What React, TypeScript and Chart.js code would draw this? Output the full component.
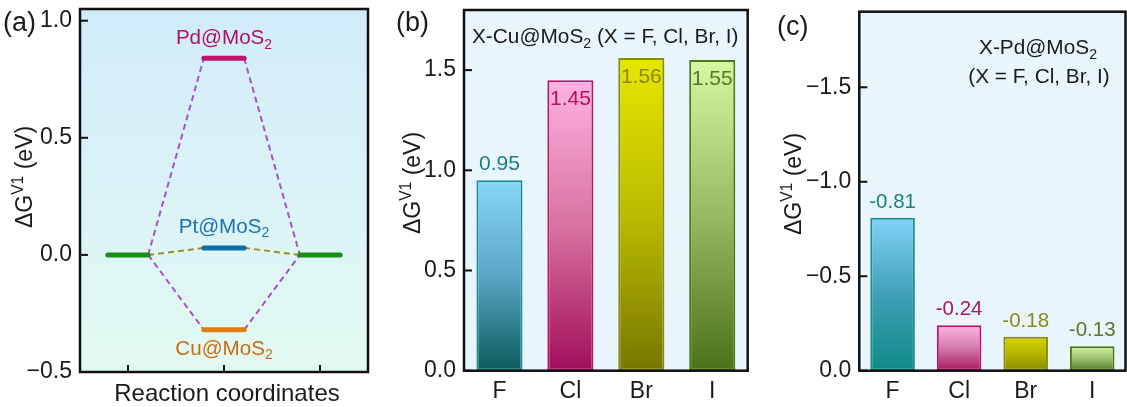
import React, { useEffect, useRef } from 'react';
import { Chart, registerables } from 'chart.js';
Chart.register(...registerables);

const FONT = '"Liberation Sans", Arial, Helvetica, sans-serif';

// ---------- Panel (a) data ----------
const stepPositions = [1, 2, 3];
const levelNames = ['Pd@MoS', 'Pt@MoS', 'Cu@MoS'];
const levelValues = [0.84, 0.03, -0.32];
const initialValue = 0;
const finalValue = 0;
const yTicksA = [-0.5, 0, 0.5, 1.0];

// ---------- Panel (b) / (c) data ----------
const halogens = ['F', 'Cl', 'Br', 'I'];
const cuValues = [0.95, 1.45, 1.56, 1.55];
const yTicksB = [0, 0.5, 1.0, 1.5];
const pdValues = [-0.81, -0.24, -0.18, -0.13];
const yTicksC = [-1.5, -1.0, -0.5, 0];

// ---------- styles ----------
const levelColors = ['#C2106B', '#0E6DAE', '#E27B10'];
const levelLabelColors = ['#B0125F', '#1C72B0', '#CF6A12'];
const connectorColors = ['#A552C8', '#A08C22', '#A552C8'];
const levelLabelOffsets = [-14, -15, 25];
const baseLevelColor = '#1A8C1A';
const halfWidth = 0.21;
const TICK_SIZE = 23;

const gradB = [
  ['#87D5FA', '#5AA6C6', '#0D5A5C'],
  ['#FFB2E2', '#D8729F', '#A00E5A'],
  ['#E6E600', '#BBBB00', '#777700'],
  ['#D6F8A2', '#98B862', '#4A7218'],
];
const gradC = [
  ['#82D2F8', '#3FA0B8', '#0E8A86'],
  ['#FFB5E2', '#D37AAE', '#A8185E'],
  ['#D4D400', '#B5B500', '#8A8A00'],
  ['#D4F6A2', '#9CC070', '#4E7A20'],
];
const borderColors = ['#1C9090', '#C0106C', '#8A8A12', '#4E7A14'];
const labelColors = ['#1E7E80', '#B0145E', '#8A8A16', '#55782A'];
const labelInsideB = [false, true, true, true];

type Seg = { t: string; s?: 'sub' | 'sup' };

function drawRich(ctx: CanvasRenderingContext2D, segs: Seg[], x: number, y: number, align: string, size: number, color: string) {
  const items = segs.map((s) => {
    const fs = s.s ? size * 0.68 : size;
    ctx.font = `${fs}px ${FONT}`;
    return { ...s, fs, w: ctx.measureText(s.t).width };
  });
  const total = items.reduce((a, b) => a + b.w, 0);
  let cx = align === 'center' ? x - total / 2 : align === 'right' ? x - total : x;
  ctx.fillStyle = color;
  ctx.textBaseline = 'alphabetic';
  ctx.textAlign = 'left';
  for (const it of items) {
    ctx.font = `${it.fs}px ${FONT}`;
    const dy = it.s === 'sub' ? size * 0.22 : it.s === 'sup' ? -size * 0.42 : 0;
    ctx.fillText(it.t, cx, y + dy);
    cx += it.w;
  }
}

const yTitle: Seg[] = [{ t: '\u0394G' }, { t: 'V1', s: 'sup' }, { t: ' (eV)' }];

function fmtMinus(v: number) {
  return v < 0 ? '\u2212' + Math.abs(v).toFixed(1) : Math.abs(v).toFixed(1);
}

function fitY(w: number) {
  return (s: any) => {
    s.width = w;
    s.paddingTop = 0;
    s.paddingBottom = 0;
    s.paddingLeft = 0;
    s.paddingRight = 0;
  };
}
function fitX(h: number) {
  return (s: any) => {
    s.height = h;
    s.paddingTop = 0;
    s.paddingBottom = 0;
    s.paddingLeft = 0;
    s.paddingRight = 0;
  };
}

function panelPlugin(o: any) {
  return {
    id: 'panel' + o.label,
    beforeDraw(chart: any) {
      const { ctx, chartArea: a } = chart;
      ctx.save();
      if (o.bgGrad) {
        const g = ctx.createLinearGradient(0, a.top, 0, a.bottom);
        g.addColorStop(0, o.bgGrad[0]);
        g.addColorStop(1, o.bgGrad[1]);
        ctx.fillStyle = g;
      } else ctx.fillStyle = o.bg;
      ctx.fillRect(a.left, a.top, a.right - a.left, a.bottom - a.top);
      ctx.restore();
    },
    afterDraw(chart: any) {
      const { ctx, chartArea: a } = chart;
      ctx.save();
      ctx.strokeStyle = '#111';
      ctx.lineWidth = 2;
      const ys = chart.scales.y;
      ys.ticks.forEach((t: any) => {
        const p = ys.getPixelForValue(t.value);
        ctx.beginPath();
        ctx.moveTo(a.left, p);
        ctx.lineTo(a.left + 8, p);
        ctx.stroke();
      });
      if (o.xTicks) {
        const xs = chart.scales.x;
        o.xTicks.forEach((v: number) => {
          const p = xs.getPixelForValue(v);
          ctx.beginPath();
          ctx.moveTo(p, a.bottom);
          ctx.lineTo(p, a.bottom - 7);
          ctx.stroke();
        });
      }
      ctx.lineWidth = 2.5;
      ctx.strokeRect(a.left, a.top, a.right - a.left, a.bottom - a.top);
      // panel label
      ctx.font = `27px ${FONT}`;
      ctx.fillStyle = '#1a1a1a';
      ctx.textAlign = 'left';
      ctx.textBaseline = 'alphabetic';
      ctx.fillText(o.label, o.labelX, o.labelY);
      // y title
      ctx.translate(o.titleX, o.titleY);
      ctx.rotate(-Math.PI / 2);
      drawRich(ctx, yTitle, 0, 23 * 0.36, 'center', 23, '#1a1a1a');
      ctx.restore();
      if (o.extra) o.extra(chart);
    },
  };
}

function ChartA() {
  const ref = useRef<HTMLCanvasElement>(null);
  useEffect(() => {
    const [x1, x2, x3] = stepPositions;
    const levelDs = (x: number, v: number, color: string) => ({
      data: [{ x: x - halfWidth, y: v }, { x: x + halfWidth, y: v }],
      borderColor: color,
      borderWidth: 5,
      borderCapStyle: 'round',
      showLine: true,
      pointRadius: 0,
      order: 0,
    });
    const connDs = (xa: number, va: number, xb: number, vb: number, color: string) => ({
      data: [{ x: xa, y: va }, { x: xb, y: vb }],
      borderColor: color,
      borderWidth: 2,
      borderDash: [6, 4],
      showLine: true,
      pointRadius: 0,
      order: 1,
    });
    const datasets: any[] = [levelDs(x1, initialValue, baseLevelColor), levelDs(x3, finalValue, baseLevelColor)];
    levelValues.forEach((v, i) => {
      datasets.push(levelDs(x2, v, levelColors[i]));
      datasets.push(connDs(x1 + halfWidth, initialValue, x2 - halfWidth, v, connectorColors[i]));
      datasets.push(connDs(x2 + halfWidth, v, x3 - halfWidth, finalValue, connectorColors[i]));
    });
    const chart = new Chart(ref.current!, {
      type: 'scatter',
      data: { datasets },
      options: {
        animation: false,
        responsive: false,
        devicePixelRatio: 1,
        layout: { padding: { left: 0, right: 7, top: 9, bottom: 0 } },
        plugins: { legend: { display: false }, tooltip: { enabled: false } },
        scales: {
          x: {
            type: 'linear',
            min: 0.5,
            max: 3.5,
            grid: { display: false, drawTicks: false },
            border: { display: false },
            ticks: { display: false },
            afterFit: fitX(35),
          },
          y: {
            min: -0.5,
            max: 1.05,
            grid: { display: false, drawTicks: false },
            border: { display: false },
            afterBuildTicks: (s: any) => { s.ticks = yTicksA.map((v) => ({ value: v })); },
            ticks: { padding: 8, color: '#1a1a1a', font: { family: FONT, size: TICK_SIZE }, callback: (v: any) => fmtMinus(Number(v)) },
            afterFit: fitY(80),
          },
        },
      } as any,
      plugins: [
        panelPlugin({
          label: '(a)', labelX: 3, labelY: 31, titleX: 24, titleY: 177,
          bgGrad: ['#D2EBFB', '#E2FAF1'], xTicks: stepPositions,
          extra: (chart: any) => {
            const ctx = chart.ctx;
            const xs = chart.scales.x, ys = chart.scales.y;
            ctx.save();
            levelValues.forEach((v, i) => {
              drawRich(ctx, [{ t: levelNames[i] }, { t: '2', s: 'sub' }], xs.getPixelForValue(x2), ys.getPixelForValue(v) + levelLabelOffsets[i], 'center', 20.6, levelLabelColors[i]);
            });
            const a = chart.chartArea;
            ctx.font = `24px ${FONT}`;
            ctx.fillStyle = '#1a1a1a';
            ctx.textAlign = 'center';
            ctx.textBaseline = 'alphabetic';
            ctx.fillText('Reaction coordinates', (a.left + a.right) / 2 + 3, 401);
            ctx.restore();
          },
        }),
      ],
    });
    return () => chart.destroy();
  }, []);
  return <canvas ref={ref} width={375} height={407} style={{ position: 'absolute', left: 0, top: 0, display: 'block' }} />;
}

function makeBarChart(canvas: HTMLCanvasElement, cfg: any) {
  const values: number[] = cfg.values;
  const grads: string[][] = cfg.grads;
  return new Chart(canvas, {
    type: 'bar',
    data: {
      labels: halogens,
      datasets: [{
        data: values,
        backgroundColor: (c: any) => {
          const stops = grads[c.dataIndex] || grads[0];
          const chart = c.chart;
          if (!chart.chartArea || c.raw === undefined) return stops[0];
          const ys = chart.scales.y;
          const top = ys.getPixelForValue(c.raw);
          const base = ys.getPixelForValue(0);
          const g = chart.ctx.createLinearGradient(0, top, 0, base);
          stops.forEach((col, k) => g.addColorStop(k / (stops.length - 1), col));
          return g;
        },
        borderColor: borderColors,
        borderWidth: 2,
        borderSkipped: false,
        barPercentage: cfg.barPct,
        categoryPercentage: 1,
      }],
    },
    options: {
      animation: false,
      responsive: false,
      devicePixelRatio: 1,
      layout: { padding: { left: 0, right: cfg.padRight, top: cfg.padTop, bottom: 0 } },
      plugins: { legend: { display: false }, tooltip: { enabled: false } },
      scales: {
        x: {
          grid: { display: false, drawTicks: false },
          border: { display: false },
          ticks: { padding: 7, color: '#1a1a1a', font: { family: FONT, size: TICK_SIZE } },
          afterFit: fitX(cfg.xHeight),
        },
        y: {
          min: cfg.min,
          max: cfg.max,
          reverse: cfg.reverse,
          grid: { display: false, drawTicks: false },
          border: { display: false },
          afterBuildTicks: (s: any) => { s.ticks = cfg.ticks.map((v: number) => ({ value: v })); },
          ticks: { padding: 8, color: '#1a1a1a', font: { family: FONT, size: TICK_SIZE }, callback: (v: any) => fmtMinus(Number(v)) },
          afterFit: fitY(cfg.yWidth),
        },
      },
    } as any,
    plugins: [
      panelPlugin({
        label: cfg.label, labelX: cfg.labelX, labelY: cfg.labelY, titleX: cfg.titleX, titleY: cfg.titleY,
        bg: '#E9F5FD',
        extra: (chart: any) => {
          const ctx = chart.ctx;
          ctx.save();
          const meta = chart.getDatasetMeta(0);
          meta.data.forEach((el: any, i: number) => {
            const inside = cfg.inside[i];
            ctx.font = `${cfg.valueSize}px ${FONT}`;
            ctx.fillStyle = labelColors[i];
            ctx.textAlign = 'center';
            ctx.textBaseline = 'alphabetic';
            ctx.fillText(values[i].toFixed(2), el.x, inside ? el.y + 24.5 : el.y - 10);
          });
          cfg.notes.forEach((n: any) => drawRich(ctx, n.segs, n.x, n.y, n.align, 20.8, '#1a1a1a'));
          ctx.restore();
        },
      }),
    ],
  });
}

function ChartB() {
  const ref = useRef<HTMLCanvasElement>(null);
  useEffect(() => {
    const chart = makeBarChart(ref.current!, {
      values: cuValues, grads: gradB, barPct: 0.65, padRight: 2.3, padTop: 10, xHeight: 36.3,
      min: 0, max: 1.8, reverse: false, ticks: yTicksB, yWidth: 89,
      label: '(b)', labelX: 21, labelY: 31, titleX: 37, titleY: 183, inside: labelInsideB, valueSize: 21,
      notes: [{ segs: [{ t: 'X-Cu@MoS' }, { t: '2', s: 'sub' }, { t: ' (X = F, Cl, Br, I)' }], x: 97, y: 43, align: 'left' }],
    });
    return () => chart.destroy();
  }, []);
  return <canvas ref={ref} width={375} height={407} style={{ position: 'absolute', left: 375, top: 0, display: 'block' }} />;
}

function ChartC() {
  const ref = useRef<HTMLCanvasElement>(null);
  useEffect(() => {
    const chart = makeBarChart(ref.current!, {
      values: pdValues, grads: gradC, barPct: 0.67, padRight: 1.5, padTop: 11.7, xHeight: 36.3,
      min: -1.9, max: 0, reverse: true, ticks: yTicksC, yWidth: 109.3,
      label: '(c)', labelX: 27, labelY: 35, titleX: 43, titleY: 184, inside: [false, false, false, false], valueSize: 20.5,
      notes: [
        { segs: [{ t: 'X-Pd@MoS' }, { t: '2', s: 'sub' }], x: 288, y: 54, align: 'center' },
        { segs: [{ t: '(X = F, Cl, Br, I)' }], x: 289, y: 83, align: 'center' },
      ],
    });
    return () => chart.destroy();
  }, []);
  return <canvas ref={ref} width={377} height={407} style={{ position: 'absolute', left: 750, top: 0, display: 'block' }} />;
}

export default function App() {
  return (
    <div style={{ position: 'absolute', left: 0, top: 0, width: 1127, height: 407, background: '#fff', overflow: 'hidden' }}>
      <ChartA />
      <ChartB />
      <ChartC />
    </div>
  );
}
